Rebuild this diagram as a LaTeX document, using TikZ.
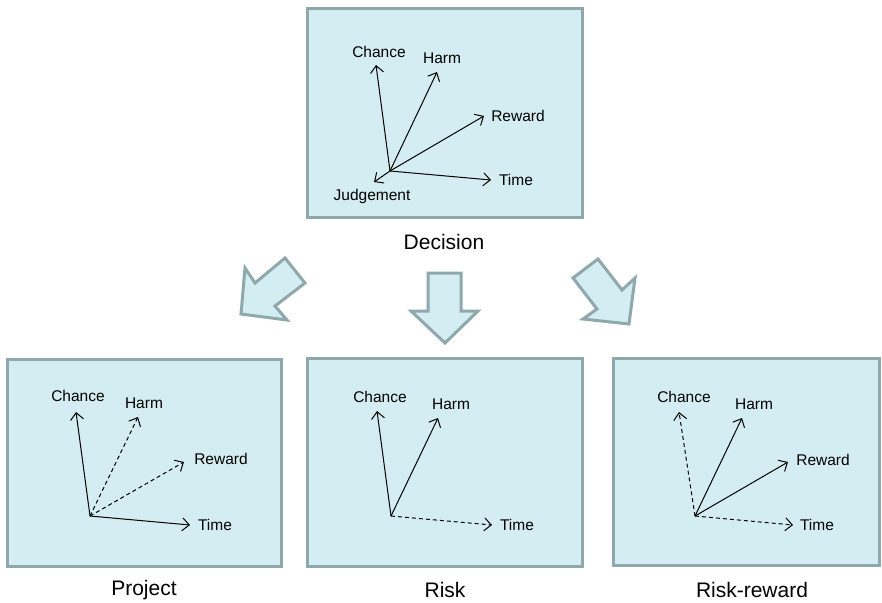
\documentclass[tikz,border=0pt]{standalone}
\usepackage{fontspec}
\setmainfont{Liberation Sans}
\usetikzlibrary{arrows.meta}
\definecolor{panelfill}{HTML}{D4EDF2}
\definecolor{panelline}{HTML}{8FA8AC}

\tikzset{
  panel/.style={draw=panelline, fill=panelfill, line width=3pt},
  vec/.style={-{Straight Barb[length=7pt,width=13pt]}, line width=1pt},
  dvec/.style={vec, dash pattern=on 4pt off 3pt},
  lab/.style={font=\fontsize{15.5}{18}\selectfont, inner sep=0pt},
  caption/.style={font=\fontsize{21}{25}\selectfont, inner sep=0pt}
}

\begin{document}
\begin{tikzpicture}[x=1pt, y=-1pt]
\useasboundingbox (0,0) rectangle (882,602);

% Panels
\node[panel, minimum width=275pt, minimum height=208pt] (decision) at (444.5,113) {};
\node[panel, minimum width=274pt, minimum height=207pt] (project) at (144,462.5) {};
\node[panel, minimum width=275pt, minimum height=208pt] (risk) at (445,462) {};
\node[panel, minimum width=266pt, minimum height=207pt] (riskreward) at (746.5,461.5) {};

% Captions
\node[caption] (decisioncap) at (444,242) {Decision};
\node[caption] (projectcap) at (144,590) {Project};
\node[caption] (riskcap) at (445,590) {Risk};
\node[caption] (riskrewardcap) at (752,590) {Risk-reward};

% Block arrows between the panels
\draw[panel, line join=miter] (285,258) -- (305,283) -- (275,306) -- (287,320)
  -- (241,314) -- (245,268) -- (255,283) -- cycle;
\draw[panel, line join=miter] (428,273) -- (461,273) -- (461,311) -- (478,311)
  -- (445,343) -- (411,311) -- (428,311) -- cycle;
\draw[panel, line join=miter] (598,259) -- (573,278) -- (597,309) -- (583,319)
  -- (629,324) -- (635,278) -- (622,290) -- cycle;

% Decision: all five axes
\coordinate (o1) at (390,171);
\coordinate (c1) at (376,65);
\coordinate (h1) at (437,72);
\coordinate (r1) at (484,116);
\coordinate (t1) at (491,180);
\coordinate (j1) at (374,182);
\draw[vec] (o1) -- (c1);
\draw[vec] (o1) -- (h1);
\draw[vec] (o1) -- (r1);
\draw[vec] (o1) -- (t1);
\draw[vec] (o1) -- (j1);
\node[lab] (chance1) at (379,52) {Chance};
\node[lab] (harm1) at (442,58) {Harm};
\node[lab] (reward1) at (518,116) {Reward};
\node[lab] (time1) at (516,180) {Time};
\node[lab] (judge1) at (372,196) {Judgement};

% Project
\coordinate (o2) at (90,516);
\coordinate (c2) at (76,412);
\coordinate (h2) at (138,417);
\coordinate (r2) at (184,462);
\coordinate (t2) at (190,525);
\draw[vec] (o2) -- (c2);
\draw[dvec] (o2) -- (h2);
\draw[dvec] (o2) -- (r2);
\draw[vec] (o2) -- (t2);
\node[lab] (chance2) at (78,396) {Chance};
\node[lab] (harm2) at (144,403) {Harm};
\node[lab] (reward2) at (221,459) {Reward};
\node[lab] (time2) at (215,525) {Time};

% Risk
\coordinate (o3) at (391,516);
\coordinate (c3) at (377,411);
\coordinate (h3) at (438,418);
\coordinate (t3) at (492,525);
\draw[vec] (o3) -- (c3);
\draw[vec] (o3) -- (h3);
\draw[dvec] (o3) -- (t3);
\node[lab] (chance3) at (380,397) {Chance};
\node[lab] (harm3) at (451,404) {Harm};
\node[lab] (time3) at (517,525) {Time};

% Risk-reward
\coordinate (o4) at (695,516);
\coordinate (c4) at (679,412);
\coordinate (h4) at (742,418);
\coordinate (r4) at (788,462);
\coordinate (t4) at (793,525);
\draw[dvec] (o4) -- (c4);
\draw[vec] (o4) -- (h4);
\draw[vec] (o4) -- (r4);
\draw[dvec] (o4) -- (t4);
\node[lab] (chance4) at (684,397) {Chance};
\node[lab] (harm4) at (754,404) {Harm};
\node[lab] (reward4) at (823,460) {Reward};
\node[lab] (time4) at (817,525) {Time};
\end{tikzpicture}
\end{document}
